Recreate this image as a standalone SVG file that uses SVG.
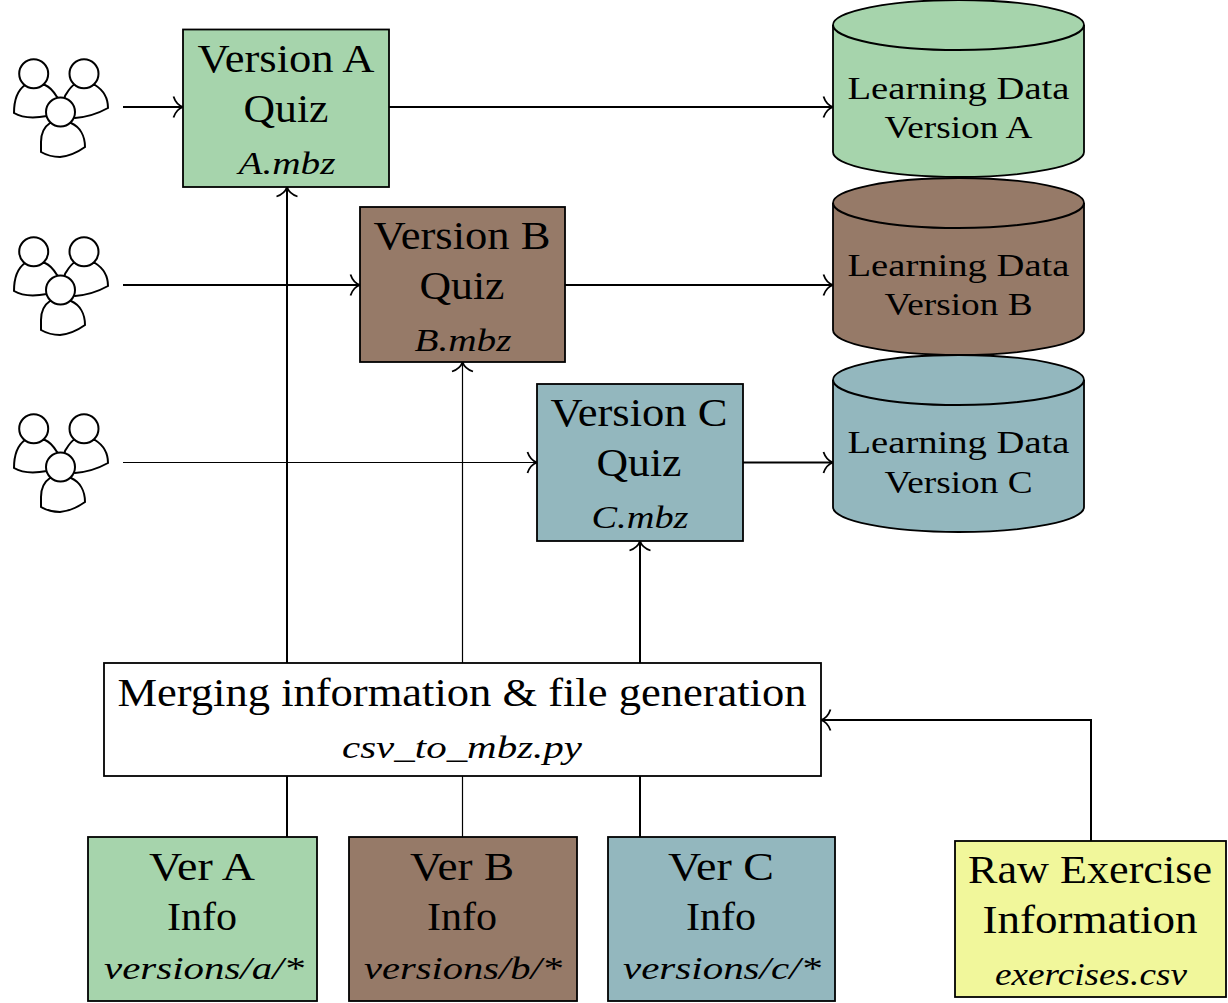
<svg xmlns="http://www.w3.org/2000/svg" width="1228" height="1003" viewBox="0 0 1228 1003">
<style>
text{font-family:"Liberation Serif","Times New Roman",serif;fill:#000;text-anchor:middle}
.l{font-size:40px}
.m{font-size:32px}
.i{font-size:31px;font-style:italic}
.g{fill:#a6d4ac}.b{fill:#967a68}.t{fill:#93b7be}.y{fill:#f1f79b}.w{fill:#fff}
.s{stroke:#000;stroke-width:1.800}
.c{fill:none;stroke:#000;stroke-width:2}
.n{stroke-width:1.200}
.p{fill:#fff;stroke:#000;stroke-width:2}
</style>
<defs>
<marker id="a" markerUnits="userSpaceOnUse" markerWidth="14" markerHeight="24" refX="11" refY="12" orient="auto" overflow="visible"><path d="M1.500 1.500C3 6 6.500 10.500 11 12C6.500 13.500 3 18 1.500 22.500" fill="none" stroke="#000" stroke-width="1.800"/></marker>
<g id="people">
<path class="p" d="M25 85C18 90 14 100 14 113C24 119 36 118 47 116L60 100L57 97C54 92 50 87 45 85Z"/>
<path class="p" d="M75 84C70 87 68 91 65 96L62 110L75 118C88 117 99 113 108 108C108 98 103 90 95 85Z"/>
<circle class="p" cx="33.700" cy="73.700" r="14.500"/>
<circle class="p" cx="84" cy="73.700" r="14.500"/>
<path class="p" d="M50 123C44 127 41 134 41 142L41 152C48 156 54 157 60 157C70 156 78 152 85 147C85 136 80 127 71 123Z"/>
<circle class="p" cx="60.500" cy="112" r="14.500"/>
</g>
</defs>
<g id="connectors">
<path class="c" d="M123 107H183" marker-end="url(#a)"/>
<path class="c" d="M123 285H360" marker-end="url(#a)"/>
<path class="c n" d="M123 462.500H537" marker-end="url(#a)"/>
<path class="c" d="M389 107H833" marker-end="url(#a)"/>
<path class="c" d="M565 285H833" marker-end="url(#a)"/>
<path class="c" d="M743 462.500H833" marker-end="url(#a)"/>
<path class="c" d="M287 663V187" marker-end="url(#a)"/>
<path class="c n" d="M462.500 663V362" marker-end="url(#a)"/>
<path class="c" d="M640 663V541" marker-end="url(#a)"/>
<path class="c" d="M287 776V837"/>
<path class="c n" d="M462.500 776V837"/>
<path class="c" d="M640 776V837"/>
<path class="c" d="M1091 841V720H821" marker-end="url(#a)"/>
</g>
<g id="people-a"><use href="#people"/></g>
<g id="people-b"><use href="#people" y="178"/></g>
<g id="people-c"><use href="#people" y="355"/></g>
<g id="quiz-a"><rect class="g s" x="183" y="29.500" width="206" height="157.500"/>
<text class="l" x="286" y="72" textLength="177" lengthAdjust="spacingAndGlyphs">Version A</text><text class="l" x="286" y="122" textLength="85" lengthAdjust="spacingAndGlyphs">Quiz</text><text class="i" x="287" y="174" textLength="97" lengthAdjust="spacingAndGlyphs">A.mbz</text></g>
<g id="quiz-b"><rect class="b s" x="360" y="207" width="205" height="155"/>
<text class="l" x="462" y="249" textLength="177" lengthAdjust="spacingAndGlyphs">Version B</text><text class="l" x="462" y="299" textLength="85" lengthAdjust="spacingAndGlyphs">Quiz</text><text class="i" x="463" y="351" textLength="97" lengthAdjust="spacingAndGlyphs">B.mbz</text></g>
<g id="quiz-c"><rect class="t s" x="537" y="384" width="206" height="157"/>
<text class="l" x="639" y="426" textLength="177" lengthAdjust="spacingAndGlyphs">Version C</text><text class="l" x="639" y="476" textLength="85" lengthAdjust="spacingAndGlyphs">Quiz</text><text class="i" x="640" y="528" textLength="97" lengthAdjust="spacingAndGlyphs">C.mbz</text></g>
<g id="data-a"><path class="g s" d="M833 25V152A125.500 25 0 0 0 1084 152V25A125.500 25 0 0 0 833 25Z"/><path class="c" d="M833 25A125.500 25 0 0 0 1084 25"/>
<text class="m" x="958.500" y="99" textLength="222" lengthAdjust="spacingAndGlyphs">Learning Data</text><text class="m" x="958.500" y="138" textLength="148" lengthAdjust="spacingAndGlyphs">Version A</text></g>
<g id="data-b"><path class="b s" d="M833 203V330A125.500 25 0 0 0 1084 330V203A125.500 25 0 0 0 833 203Z"/><path class="c" d="M833 203A125.500 25 0 0 0 1084 203"/>
<text class="m" x="958.500" y="276" textLength="222" lengthAdjust="spacingAndGlyphs">Learning Data</text><text class="m" x="958.500" y="315" textLength="148" lengthAdjust="spacingAndGlyphs">Version B</text></g>
<g id="data-c"><path class="t s" d="M833 380V507A125.500 25 0 0 0 1084 507V380A125.500 25 0 0 0 833 380Z"/><path class="c" d="M833 380A125.500 25 0 0 0 1084 380"/>
<text class="m" x="958.500" y="453" textLength="222" lengthAdjust="spacingAndGlyphs">Learning Data</text><text class="m" x="958.500" y="493" textLength="148" lengthAdjust="spacingAndGlyphs">Version C</text></g>
<g id="merge"><rect class="w s" x="104" y="663" width="717" height="113"/>
<text class="l" x="462" y="706" textLength="689" lengthAdjust="spacingAndGlyphs">Merging information &amp; file generation</text><text class="i" x="462" y="758" textLength="240" lengthAdjust="spacingAndGlyphs">csv_to_mbz.py</text></g>
<g id="info-a"><rect class="g s" x="88" y="837" width="229" height="164"/>
<text class="l" x="202" y="880" textLength="106" lengthAdjust="spacingAndGlyphs">Ver A</text><text class="l" x="202" y="930" textLength="70" lengthAdjust="spacingAndGlyphs">Info</text><text class="i" x="204" y="979" textLength="200" lengthAdjust="spacingAndGlyphs">versions/a/*</text></g>
<g id="info-b"><rect class="b s" x="349" y="837" width="228" height="164"/>
<text class="l" x="462" y="880" textLength="104" lengthAdjust="spacingAndGlyphs">Ver B</text><text class="l" x="462" y="930" textLength="70" lengthAdjust="spacingAndGlyphs">Info</text><text class="i" x="463" y="979" textLength="198" lengthAdjust="spacingAndGlyphs">versions/b/*</text></g>
<g id="info-c"><rect class="t s" x="608" y="837" width="227" height="164"/>
<text class="l" x="721" y="880" textLength="106" lengthAdjust="spacingAndGlyphs">Ver C</text><text class="l" x="721" y="930" textLength="70" lengthAdjust="spacingAndGlyphs">Info</text><text class="i" x="722" y="979" textLength="198" lengthAdjust="spacingAndGlyphs">versions/c/*</text></g>
<g id="raw"><rect class="y s" x="955" y="841" width="271" height="156"/>
<text class="l" x="1090" y="883" textLength="244" lengthAdjust="spacingAndGlyphs">Raw Exercise</text><text class="l" x="1090" y="933" textLength="215" lengthAdjust="spacingAndGlyphs">Information</text><text class="i" x="1091" y="985" textLength="192" lengthAdjust="spacingAndGlyphs">exercises.csv</text></g>
</svg>
